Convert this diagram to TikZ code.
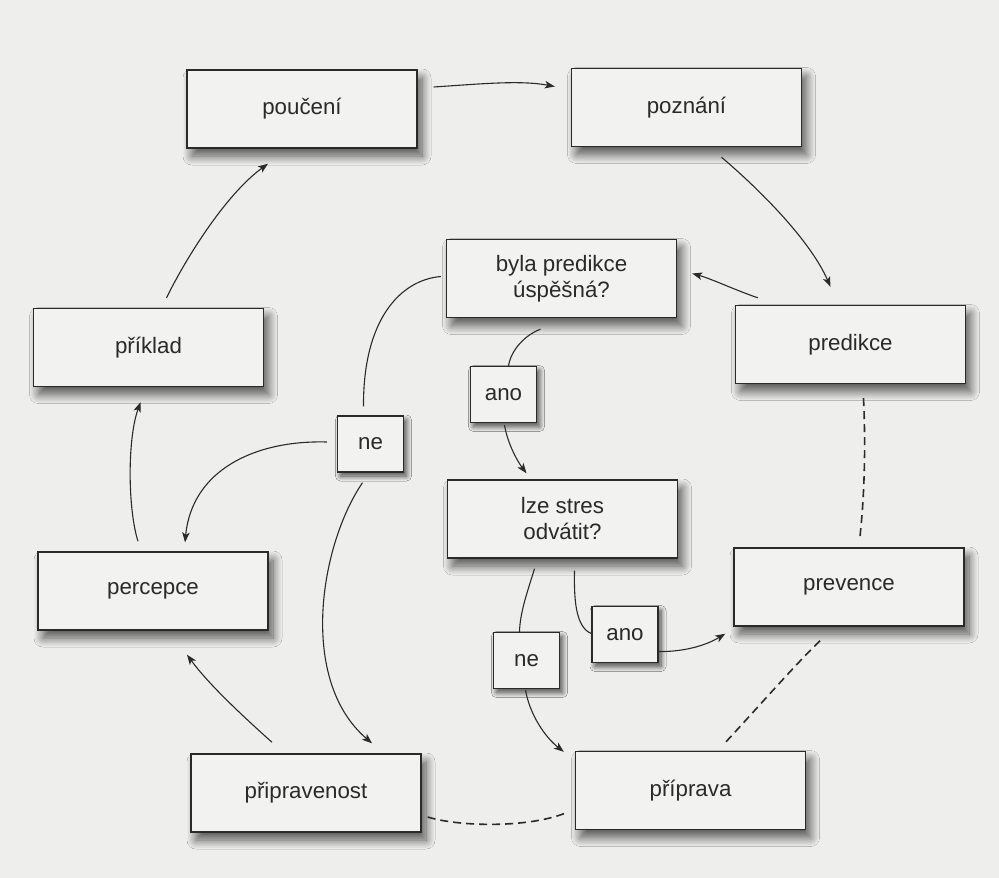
\documentclass[tikz,border=0pt]{standalone}
\usepackage{fontspec}
\setmainfont{Liberation Sans}
\usetikzlibrary{arrows.meta,calc,shadows.blur}
\definecolor{paper}{HTML}{EEEEEC}
\definecolor{boxfill}{HTML}{F2F2F0}
\definecolor{ink}{HTML}{2A2A2A}
\begin{document}
\begin{tikzpicture}[x=1pt,y=-1pt,
  box/.style={draw=ink, line width=1.4pt, fill=boxfill, minimum width=230pt,
    minimum height=78pt, inner sep=0pt, align=center, text=ink,
    font=\fontsize{22.3}{26}\selectfont,
    blur shadow={shadow xshift=5pt, shadow yshift=-8pt, shadow blur steps=16,
      shadow blur radius=9pt, shadow opacity=65}},
  tag/.style={box, minimum width=66pt, minimum height=56pt,
    blur shadow={shadow xshift=3pt, shadow yshift=-4pt, shadow blur steps=10,
      shadow blur radius=5pt, shadow opacity=40}},
  link/.style={draw=ink, line width=1.1pt},
  arr/.style={link, -{Stealth[length=10pt,width=7.5pt,inset=2.5pt]}},
  dashlink/.style={link, line width=1.6pt, dash pattern=on 8pt off 5pt}
]
% page
\fill[paper] (0,0) rectangle (999,878);
\useasboundingbox (0,0) rectangle (999,878);

% main boxes
\node[box] (pouceni)      at (302,109)   {poučení};
\node[box] (poznani)      at (686.5,107.5) {poznání};
\node[box] (byla)         at (561.5,278.5) {byla predikce\\úspěšná?};
\node[box] (predikce)     at (850.5,344.5) {predikce};
\node[box] (priklad)      at (148.5,347.5) {příklad};
\node[box] (percepce)     at (153,591)   {percepce};
\node[box] (lze)          at (562.5,519) {lze stres\\odvátit?};
\node[box] (prevence)     at (849,587)   {prevence};
\node[box] (pripravenost) at (306,793)   {připravenost};
\node[box] (priprava)     at (690.5,790.5) {příprava};

% answer tags
\node[tag] (neA)  at (370.5,444)   {ne};
\node[tag] (anoA) at (503.5,394.5) {ano};
\node[tag] (neB)  at (526.5,660.5) {ne};
\node[tag] (anoB) at (625,634.5)   {ano};

% cycle of arrows
\draw[arr] ($(pouceni.east)+(16,-22)$) .. controls (480,84) and (520,80) .. ($(poznani.west)+(-16,-21)$);
\draw[arr] ($(poznani.south)+(35,10)$) .. controls (760,190) and (810,240) .. ($(predikce.north)+(-20,-18)$);
\draw[arr] ($(predikce.north west)+(23,-7)$) .. controls (735,290) and (712,279) .. ($(byla.east)+(15,-5)$);
\draw[link] ($(byla.west)+(-5,-2)$) .. controls (400,280) and (363,320) .. ($(neA.north)+(-7,-9)$);
\draw[link] ($(byla.south)+(-21,11)$) .. controls (525,335) and (511,350) .. ($(anoA.north)+(5,0)$);
\draw[arr] ($(anoA.south)+(1,2)$) .. controls (508,445) and (518,462) .. ($(lze.north)+(-36,-6)$);
\draw[arr] ($(neA.west)+(-10,-2)$) .. controls (255,440) and (192,470) .. ($(percepce.north)+(32,-9)$);
\draw[arr] ($(neA.south)+(-8,10)$) .. controls (320,545) and (298,680) .. ($(pripravenost.north)+(66,-10)$);
\draw[arr] ($(percepce.north)+(-15,-10)$) .. controls (128,510) and (127,440) .. ($(priklad.south)+(-8,15)$);
\draw[arr] ($(priklad.north)+(18,-10)$) .. controls (185,260) and (225,195) .. ($(pouceni.south)+(-34,15)$);
\draw[arr] ($(pripravenost.north)+(-34,-11)$) .. controls (245,718) and (210,686) .. ($(percepce.south)+(34,24)$);
\draw[link] ($(lze.south)+(-28,10)$) .. controls (528,590) and (520,612) .. ($(neB.north)+(-7,0)$);
\draw[link] ($(lze.south)+(12,12)$) .. controls (574,597) and (575,627) .. ($(anoB.west)+(0,-1)$);
\draw[arr] ($(anoB.east)+(0,17)$) .. controls (682,652) and (705,646) .. ($(prevence.south west)+(-8,7)$);
\draw[arr] ($(neB.south)+(-1,1)$) .. controls (530,715) and (545,737) .. ($(priprava.north west)+(-11,1)$);

% dashed links
\draw[dashlink] ($(predikce.south)+(13,14)$) .. controls (866,450) and (864,500) .. ($(prevence.north)+(11,-11)$);
\draw[dashlink] ($(prevence.south)+(-29,14)$) .. controls (795,665) and (760,705) .. ($(priprava.north)+(35.5,-9)$);
\draw[dashlink] ($(pripravenost.east)+(6,24)$) .. controls (460,827) and (530,828) .. ($(priprava.west)+(-8,22)$);
\end{tikzpicture}
\end{document}
